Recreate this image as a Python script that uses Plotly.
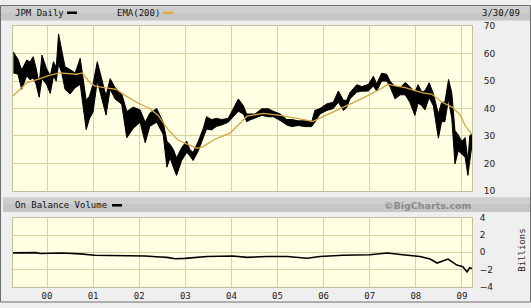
import plotly.graph_objects as go

# ---------------- data ----------------
price_year = [1999.27, 1999.37, 1999.45, 1999.56, 1999.63, 1999.70, 1999.76, 1999.83, 1999.89, 1999.99,
              2000.07, 2000.14, 2000.20, 2000.25, 2000.32, 2000.39, 2000.50, 2000.61, 2000.72, 2000.79,
              2000.85, 2000.92, 2001.00, 2001.09, 2001.19, 2001.28, 2001.37, 2001.48, 2001.62, 2001.73,
              2001.87, 2002.02, 2002.13, 2002.23, 2002.38, 2002.52, 2002.60, 2002.67, 2002.74, 2002.81,
              2002.92, 2003.03, 2003.10, 2003.17, 2003.28, 2003.39, 2003.46, 2003.57, 2003.68, 2003.79,
              2003.93, 2004.04, 2004.15, 2004.26, 2004.33, 2004.40, 2004.51, 2004.66, 2004.80, 2004.91,
              2005.06, 2005.20, 2005.31, 2005.45, 2005.60, 2005.74, 2005.81, 2005.92, 2006.07, 2006.21,
              2006.32, 2006.43, 2006.50, 2006.57, 2006.72, 2006.83, 2006.97, 2007.08, 2007.15, 2007.26,
              2007.37, 2007.44, 2007.55, 2007.66, 2007.77, 2007.87, 2007.98, 2008.05, 2008.13, 2008.20,
              2008.29, 2008.38, 2008.49, 2008.56, 2008.63, 2008.71, 2008.78, 2008.85, 2008.92, 2009.00,
              2009.07, 2009.13, 2009.17, 2009.22]
price_high = [60.6, 58.0, 54.1, 57.7, 57.0, 58.9, 55.0, 49.0, 59.5, 54.5,
              52.0, 57.1, 55.0, 67.2, 61.2, 55.3, 54.2, 53.0, 58.3, 50.0,
              43.0, 44.5, 49.0, 57.1, 50.8, 44.6, 50.9, 47.5, 45.5, 38.9,
              40.5, 39.5, 35.0, 38.3, 40.0, 35.0, 28.1, 26.9, 25.1, 22.0,
              25.7, 28.1, 25.0, 24.0, 28.0, 32.8, 37.0, 36.0, 36.4, 36.0,
              36.4, 39.9, 43.5, 41.0, 38.0, 38.0, 38.0, 39.9, 39.9, 39.0,
              38.0, 36.0, 36.0, 35.5, 35.5, 35.0, 39.3, 40.0, 41.7, 42.3,
              46.4, 43.0, 43.0, 45.8, 48.7, 48.0, 48.8, 51.8, 49.0, 52.9,
              52.5, 50.0, 48.0, 47.6, 49.5, 48.0, 46.0, 48.7, 46.0, 46.5,
              49.4, 45.5, 38.0, 42.3, 42.3, 50.6, 45.8, 32.0, 30.4, 28.0,
              29.4, 21.0, 30.0, 31.0]
price_low = [53.0, 52.5, 47.0, 52.0, 50.5, 51.2, 49.0, 44.1, 51.0, 48.8,
             45.5, 51.8, 50.0, 56.2, 53.0, 47.0, 45.3, 47.6, 48.8, 40.5,
             32.3, 36.3, 38.8, 50.0, 43.3, 37.6, 47.0, 43.4, 41.6, 29.3,
             32.8, 35.0, 27.5, 33.5, 35.0, 30.5, 18.6, 22.0, 18.6, 15.6,
             21.0, 24.0, 22.7, 21.0, 24.5, 29.3, 32.5, 32.2, 33.5, 34.0,
             35.0, 37.0, 39.0, 38.0, 35.2, 35.8, 36.4, 37.5, 37.0, 37.0,
             35.6, 34.0, 33.4, 33.8, 33.4, 33.4, 35.0, 38.0, 39.3, 40.0,
             42.3, 39.3, 40.3, 43.5, 46.0, 46.3, 46.4, 48.2, 46.4, 50.0,
             50.0, 48.0, 43.5, 45.0, 45.0, 42.3, 37.5, 42.0, 41.0, 39.5,
             44.0, 41.0, 29.2, 35.2, 35.2, 43.5, 36.3, 19.8, 24.6, 23.4,
             22.2, 15.6, 21.0, 27.0]

ema_year = [1999.26, 1999.41, 1999.56, 1999.80, 2000.00, 2000.26, 2000.64, 2000.76, 2000.93, 2001.04,
            2001.26, 2001.50, 2001.69, 2001.97, 2002.23, 2002.41, 2002.62, 2002.84, 2003.04, 2003.25,
            2003.38, 2003.64, 2003.97, 2004.34, 2004.69, 2005.06, 2005.42, 2005.77, 2006.14, 2006.51,
            2006.85, 2007.16, 2007.40, 2007.77, 2008.13, 2008.35, 2008.57, 2008.79, 2008.96, 2009.07,
            2009.22]
ema_value = [44.6, 47.0, 49.4, 50.6, 51.8, 53.0, 52.5, 53.0, 49.5, 48.2,
             47.6, 47.0, 44.8, 42.0, 40.0, 37.5, 32.5, 28.5, 27.0, 25.5,
             26.0, 28.8, 31.0, 37.2, 38.2, 37.5, 36.4, 35.3, 38.2, 41.1,
             43.8, 46.5, 48.8, 47.6, 45.8, 45.2, 42.3, 40.5, 37.7, 33.8,
             30.5]

obv_year = [1999.26, 1999.76, 1999.85, 2000.07, 2000.33, 2000.72, 2001.04, 2001.37, 2001.87, 2002.13,
            2002.45, 2002.60, 2002.78, 2002.99, 2003.47, 2004.03, 2004.34, 2004.77, 2005.21, 2005.64,
            2005.92, 2006.42, 2007.00, 2007.38, 2007.72, 2008.09, 2008.31, 2008.46, 2008.70, 2008.89,
            2009.02, 2009.11, 2009.17, 2009.22]
obv_billions = [-0.08, -0.05, -0.15, -0.10, -0.10, -0.20, -0.35, -0.38, -0.40, -0.45,
                -0.55, -0.60, -0.77, -0.72, -0.50, -0.45, -0.60, -0.50, -0.50, -0.70,
                -0.50, -0.35, -0.30, -0.10, -0.30, -0.50, -0.80, -1.26, -0.80, -1.50,
                -1.70, -2.30, -1.80, -1.90]

year_ticks = [2000, 2001, 2002, 2003, 2004, 2005, 2006, 2007, 2008, 2009]
year_labels = ["00", "01", "02", "03", "04", "05", "06", "07", "08", "09"]
price_ticks = [10, 20, 30, 40, 50, 60, 70]
obv_ticks = [-4, -2, 0, 2, 4]

# ---------------- figure ----------------
W, H = 531, 308
def py(px):
    return 1 - px / H
def pxx(px):
    return px / W

x_range = [1999.262, 2009.219]
panel_bg = "#FFFFE3"
grid_c = "#D8D3A0"
mono = "DejaVu Sans Mono"

fig = go.Figure()
fig.add_trace(go.Scatter(x=price_year, y=price_low, mode="lines",
                         line=dict(color="black", width=1), showlegend=False,
                         xaxis="x", yaxis="y"))
fig.add_trace(go.Scatter(x=price_year, y=price_high, mode="lines",
                         line=dict(color="black", width=1), fill="tonexty",
                         fillcolor="black", showlegend=False, xaxis="x", yaxis="y"))
fig.add_trace(go.Scatter(x=ema_year, y=ema_value, mode="lines",
                         line=dict(color="#D6A443", width=1.3), showlegend=False,
                         xaxis="x", yaxis="y"))
fig.add_trace(go.Scatter(x=obv_year, y=obv_billions, mode="lines",
                         line=dict(color="black", width=1.6), showlegend=False,
                         xaxis="x2", yaxis="y2"))

axis_common = dict(showgrid=True, gridcolor=grid_c, gridwidth=1, zeroline=False,
                   showline=True, linecolor="#C4C09A", mirror=True)

fig.update_layout(
    width=W, height=H, autosize=False,
    margin=dict(l=0, r=0, t=0, b=0),
    paper_bgcolor="#EFEFEF", plot_bgcolor=panel_bg,
    xaxis=dict(domain=[pxx(13), pxx(472)], range=x_range, tickvals=year_ticks,
               showticklabels=False, anchor="y", **axis_common),
    yaxis=dict(domain=[py(192), py(22)], range=[10, 70], tickvals=price_ticks,
               side="right", anchor="x", ticklabelstandoff=9,
               tickfont=dict(family="DejaVu Sans", size=9, color="#222"),
               **axis_common),
    xaxis2=dict(domain=[pxx(13), pxx(472)], range=x_range, tickvals=year_ticks,
                ticktext=year_labels, anchor="y2",
                tickfont=dict(family=mono, size=9, color="#222"), ticklabelstandoff=1,
                **axis_common),
    yaxis2=dict(domain=[py(291), py(220)], range=[-4, 4], tickvals=obv_ticks,
                side="right", anchor="x2", ticklabelstandoff=5,
                tickfont=dict(family="DejaVu Sans", size=9, color="#222"),
                **axis_common),
)

shapes = [
    # header bars
    dict(type="rect", xref="paper", yref="paper", x0=0, x1=1, y0=py(16), y1=py(0),
         fillcolor="#C6C6C6", line=dict(width=0), layer="below"),
    dict(type="rect", xref="paper", yref="paper", x0=0, x1=1, y0=py(8), y1=py(0),
         fillcolor="#CFCFCF", line=dict(width=0), layer="below"),
    dict(type="rect", xref="paper", yref="paper", x0=pxx(3), x1=1, y0=py(214), y1=py(199),
         fillcolor="#C6C6C6", line=dict(width=0), layer="below"),
    dict(type="rect", xref="paper", yref="paper", x0=pxx(3), x1=1, y0=py(206), y1=py(199),
         fillcolor="#CFCFCF", line=dict(width=0), layer="below"),
    # legend keys
    dict(type="line", xref="paper", yref="paper", x0=pxx(67), x1=pxx(77), y0=py(8), y1=py(8),
         line=dict(color="black", width=2.5)),
    dict(type="line", xref="paper", yref="paper", x0=pxx(163), x1=pxx(173), y0=py(8), y1=py(8),
         line=dict(color="#E0A840", width=2.5)),
    dict(type="line", xref="paper", yref="paper", x0=pxx(112), x1=pxx(122), y0=py(207), y1=py(207),
         line=dict(color="black", width=2.5)),
    # outer frame
    dict(type="rect", xref="paper", yref="paper", x0=pxx(0.5), x1=pxx(530.5), y0=py(307), y1=py(0.5),
         fillcolor="rgba(0,0,0,0)", line=dict(color="#6E6E6E", width=1)),
]
fig.update_layout(shapes=shapes)

ann_font = dict(family=mono, size=9, color="#111")
annotations = [
    dict(text="JPM Daily", x=pxx(13), y=py(8), xanchor="left", yanchor="middle"),
    dict(text="EMA(200)", x=pxx(115), y=py(8), xanchor="left", yanchor="middle"),
    dict(text="3/30/09", x=pxx(480), y=py(8), xanchor="left", yanchor="middle"),
    dict(text="On Balance Volume", x=pxx(13), y=py(207), xanchor="left", yanchor="middle"),
]
for a in annotations:
    a.update(xref="paper", yref="paper", showarrow=False, font=ann_font)
annotations.append(dict(text="<b>©BigCharts.com</b>", x=pxx(474), y=py(207), xanchor="right",
                        yanchor="middle", xref="paper", yref="paper", showarrow=False,
                        font=dict(family="DejaVu Sans", size=9.5, color="#8A8A8A")))
annotations.append(dict(text="Billions", x=pxx(522), y=py(254), xanchor="center",
                        yanchor="middle", textangle=-90, xref="paper", yref="paper",
                        showarrow=False, font=dict(family=mono, size=9, color="#222")))
fig.update_layout(annotations=annotations)

fig.write_html("out.html")
